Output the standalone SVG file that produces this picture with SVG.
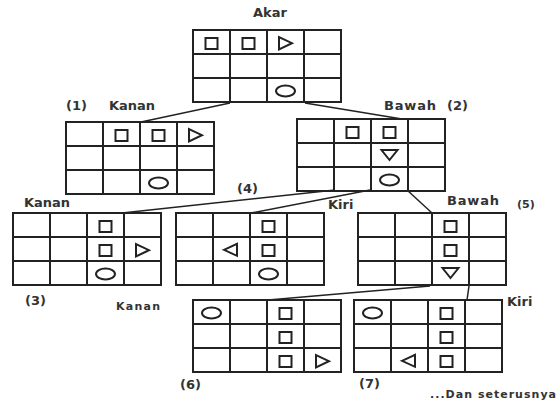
<svg xmlns="http://www.w3.org/2000/svg" xmlns:xlink="http://www.w3.org/1999/xlink" width="558" height="402" viewBox="0 0 558 402">
<style>
.gl{fill:none;stroke:#222;stroke-width:2}
.sh{fill:none;stroke:#222;stroke-width:2}
.cn{fill:none;stroke:#222;stroke-width:1.5}
.lb{font-family:"DejaVu Sans","Liberation Sans",sans-serif;font-weight:bold;font-size:13px;fill:#333}
.lbs{font-family:"DejaVu Sans","Liberation Sans",sans-serif;font-weight:bold;font-size:11px;fill:#333}
</style>
<defs>
<g id="grid"><rect class="gl" x="0" y="0" width="148" height="72"/><path class="gl" d="M37 0V72M74 0V72M111 0V72M0 24H148M0 48H148"/></g>
<rect id="sq" class="sh" x="12.5" y="8" width="12" height="11"/>
<polygon id="triR" class="sh" points="12,7 12,19.5 25,13.2"/>
<polygon id="triD" class="sh" points="10.5,7 26.5,7 18.5,17"/>
<polygon id="triL" class="sh" points="11,12.8 24,6.8 24,18.8"/>
<ellipse id="ell" class="sh" cx="18.5" cy="13" rx="9.5" ry="5.5"/>
</defs>
<rect width="558" height="402" fill="#fff"/>
<g id="connectors">
<line class="cn" x1="230" y1="103" x2="141" y2="122"/>
<line class="cn" x1="305" y1="103" x2="402" y2="119"/>
<line class="cn" x1="335" y1="190" x2="122" y2="213"/>
<line class="cn" x1="370" y1="190" x2="251" y2="213"/>
<line class="cn" x1="407" y1="190" x2="432" y2="213"/>
<line class="cn" x1="430" y1="286" x2="268" y2="300"/>
<line class="cn" x1="469" y1="286" x2="467" y2="300"/>
</g>
<g id="root" transform="translate(193,30)">
<use href="#grid"/>
<use href="#sq" x="0" y="0"/><use href="#sq" x="37" y="0"/><use href="#triR" x="74" y="0"/><use href="#ell" x="74" y="48"/>
</g>
<g id="node1" transform="translate(66,122)">
<use href="#grid"/>
<use href="#sq" x="37" y="0"/><use href="#sq" x="74" y="0"/><use href="#triR" x="111" y="0"/><use href="#ell" x="74" y="48"/>
</g>
<g id="node2" transform="translate(297,119)">
<use href="#grid"/>
<use href="#sq" x="37" y="0"/><use href="#sq" x="74" y="0"/><use href="#triD" x="74" y="24"/><use href="#ell" x="74" y="48"/>
</g>
<g id="node3" transform="translate(13,213)">
<use href="#grid"/>
<use href="#sq" x="74" y="0"/><use href="#sq" x="74" y="24"/><use href="#triR" x="111" y="24"/><use href="#ell" x="74" y="48"/>
</g>
<g id="node4" transform="translate(176,213)">
<use href="#grid"/>
<use href="#sq" x="74" y="0"/><use href="#triL" x="37" y="24"/><use href="#sq" x="74" y="24"/><use href="#ell" x="74" y="48"/>
</g>
<g id="node5" transform="translate(358,213)">
<use href="#grid"/>
<use href="#sq" x="74" y="0"/><use href="#sq" x="74" y="24"/><use href="#triD" x="74" y="48"/>
</g>
<g id="node6" transform="translate(193,300)">
<use href="#grid"/>
<use href="#ell" x="0" y="0"/><use href="#sq" x="74" y="0"/><use href="#sq" x="74" y="24"/><use href="#sq" x="74" y="48"/><use href="#triR" x="111" y="48"/>
</g>
<g id="node7" transform="translate(354,300)">
<use href="#grid"/>
<use href="#ell" x="0" y="0"/><use href="#sq" x="74" y="0"/><use href="#sq" x="74" y="24"/><use href="#triL" x="37" y="48"/><use href="#sq" x="74" y="48"/>
</g>
<g id="labels">
<text class="lb" x="253" y="16.5">Akar</text>
<text class="lb" x="66" y="109.5">(1)</text>
<text class="lb" x="109" y="110">Kanan</text>
<text class="lb" x="384" y="110" textLength="52" lengthAdjust="spacing">Bawah</text>
<text class="lb" x="447" y="110">(2)</text>
<text class="lb" x="24" y="206.5">Kanan</text>
<text class="lb" x="237" y="193">(4)</text>
<text class="lb" x="328" y="209">Kiri</text>
<text class="lb" x="447" y="205" textLength="52" lengthAdjust="spacing">Bawah</text>
<text class="lbs" x="517" y="208">(5)</text>
<text class="lb" x="25" y="305">(3)</text>
<text class="lbs" x="116" y="310" textLength="44" lengthAdjust="spacing">Kanan</text>
<text class="lb" x="507" y="306">Kiri</text>
<text class="lb" x="180" y="389">(6)</text>
<text class="lb" x="359" y="388">(7)</text>
<text class="lbs" x="430" y="398" textLength="126" lengthAdjust="spacing">...Dan seterusnya</text>
</g>
</svg>
